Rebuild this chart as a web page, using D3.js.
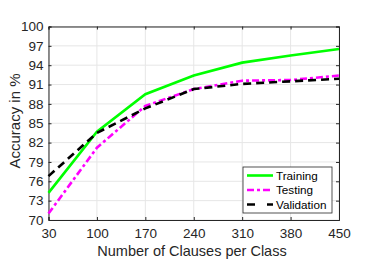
<!DOCTYPE html>
<html>
<head>
<meta charset="utf-8">
<script src="https://cdn.jsdelivr.net/npm/d3@7"></script>
<style>
  body { margin: 0; background: #fff; }
  text { font-family: "Liberation Sans", Arial, sans-serif; }
</style>
</head>
<body>
<div id="chart"></div>
<script>
const clauses = [30, 100, 170, 240, 310, 380, 450];
const training = [74.2, 83.7, 89.5, 92.4, 94.4, 95.5, 96.5];
const testing = [71.0, 81.2, 87.7, 90.3, 91.6, 91.7, 92.4];
const validation = [76.8, 83.5, 87.3, 90.3, 91.1, 91.5, 91.9];
const yTicks = [70, 73, 76, 79, 82, 85, 88, 91, 94, 97, 100];
const seriesNames = ["Training", "Testing", "Validation"];

const width = 374, height = 275;
const margin = { left: 48.5, right: 35, top: 26.5, bottom: 55 };

const svg = d3.select("#chart").append("svg")
    .attr("width", width)
    .attr("height", height);

const x = d3.scaleLinear().domain([30, 450]).range([margin.left, width - margin.right]);
const y = d3.scaleLinear().domain([70, 100]).range([height - margin.bottom, margin.top]);

// grid
svg.append("g").selectAll("line")
    .data(clauses)
    .enter().append("line")
    .attr("x1", d => x(d)).attr("x2", d => x(d))
    .attr("y1", y(70)).attr("y2", y(100))
    .style("stroke", "#e6e6e6").style("stroke-width", 1);
svg.append("g").selectAll("line")
    .data(yTicks)
    .enter().append("line")
    .attr("x1", x(30)).attr("x2", x(450))
    .attr("y1", d => y(d)).attr("y2", d => y(d))
    .style("stroke", "#e6e6e6").style("stroke-width", 1);

// axes
const xAxis = svg.append("g")
    .attr("transform", "translate(0," + y(70) + ")")
    .call(d3.axisBottom(x).tickValues(clauses).tickSize(-3).tickPadding(8));
const yAxis = svg.append("g")
    .attr("transform", "translate(" + x(30) + ",0)")
    .call(d3.axisLeft(y).tickValues(yTicks).tickSize(-3).tickPadding(5));
// box top and right
const xTop = svg.append("g")
    .attr("transform", "translate(0," + y(100) + ")")
    .call(d3.axisTop(x).tickValues(clauses).tickSize(-3).tickFormat(""));
const yRight = svg.append("g")
    .attr("transform", "translate(" + x(450) + ",0)")
    .call(d3.axisRight(y).tickValues(yTicks).tickSize(-3).tickFormat(""));

[xAxis, yAxis, xTop, yRight].forEach(a => {
    a.selectAll("path").style("stroke", "#262626").style("stroke-width", 1);
    a.selectAll("line").style("stroke", "#262626");
    a.selectAll("text").style("font-size", "13.5px").style("fill", "#262626")
        .style("font-family", "'Liberation Sans', Arial, sans-serif");
});

// lines
const line = d3.line().x((d, i) => x(clauses[i])).y(d => y(d));
const styles = [
    { data: training, color: "#00ff00", dash: null },
    { data: testing, color: "#ff00ff", dash: "7,3,3,3" },
    { data: validation, color: "#000000", dash: "8,5" }
];
styles.forEach(s => {
    svg.append("path")
        .datum(s.data)
        .attr("d", line)
        .style("fill", "none")
        .style("stroke", s.color)
        .style("stroke-width", 2.6)
        .style("stroke-dasharray", s.dash);
});

// labels
svg.append("text")
    .attr("x", 192)
    .attr("y", 256)
    .attr("text-anchor", "middle")
    .style("font-size", "14.5px")
    .style("fill", "#262626")
    .text("Number of Clauses per Class");
svg.append("text")
    .attr("transform", "translate(20,121) rotate(-90)")
    .attr("text-anchor", "middle")
    .style("font-size", "15px")
    .style("fill", "#262626")
    .text("Accuracy in %");

// legend
const legend = svg.append("g").attr("transform", "translate(243,167)");
legend.append("rect")
    .attr("width", 89).attr("height", 46)
    .style("fill", "#fff").style("stroke", "#262626").style("stroke-width", 0.8);
styles.forEach((s, i) => {
    const ly = 8.5 + i * 14.5;
    legend.append("line")
        .attr("x1", 4).attr("x2", 30)
        .attr("y1", ly).attr("y2", ly)
        .style("stroke", s.color)
        .style("stroke-width", 2.6)
        .style("stroke-dasharray", i == 1 ? "7,3,3,3" : (i == 2 ? "8,12" : null));
    legend.append("text")
        .attr("x", 33).attr("y", ly)
        .attr("dy", "0.35em")
        .style("font-size", "11.7px")
        .style("fill", "#000")
        .text(seriesNames[i]);
});
</script>
</body>
</html>
